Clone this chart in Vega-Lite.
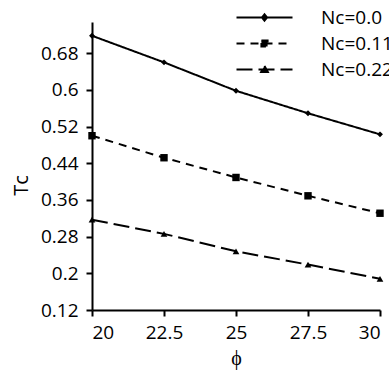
{
  "$schema": "https://vega.github.io/schema/vega-lite/v6.json",
  "width": 288,
  "height": 288,
  "autosize": {"type": "none"},
  "padding": {"left": 92, "top": 22, "right": 9, "bottom": 61},
  "background": "white",
  "config": {
    "view": {"stroke": null},
    "font": "Open Sans",
    "axis": {
      "grid": false,
      "domainColor": "black",
      "domainWidth": 2,
      "tickColor": "black",
      "tickWidth": 2,
      "tickSize": 6,
      "labelColor": "black",
      "labelFontSize": 19,
      "labelFont": "Open Sans",
      "titleColor": "black",
      "titleFontSize": 20,
      "titleFont": "Open Sans",
      "titleFontWeight": "normal"
    }
  },
  "data": {
    "values": [
      {"series": "Nc=0.0", "phi": 20, "Tc": 0.718},
      {"series": "Nc=0.0", "phi": 22.5, "Tc": 0.66},
      {"series": "Nc=0.0", "phi": 25, "Tc": 0.598},
      {"series": "Nc=0.0", "phi": 27.5, "Tc": 0.549},
      {"series": "Nc=0.0", "phi": 30, "Tc": 0.503},
      {"series": "Nc=0.111", "phi": 20, "Tc": 0.5},
      {"series": "Nc=0.111", "phi": 22.5, "Tc": 0.452},
      {"series": "Nc=0.111", "phi": 25, "Tc": 0.409},
      {"series": "Nc=0.111", "phi": 27.5, "Tc": 0.369},
      {"series": "Nc=0.111", "phi": 30, "Tc": 0.331},
      {"series": "Nc=0.222", "phi": 20, "Tc": 0.317},
      {"series": "Nc=0.222", "phi": 22.5, "Tc": 0.286},
      {"series": "Nc=0.222", "phi": 25, "Tc": 0.248},
      {"series": "Nc=0.222", "phi": 27.5, "Tc": 0.219},
      {"series": "Nc=0.222", "phi": 30, "Tc": 0.188}
    ]
  },
  "encoding": {
    "x": {
      "field": "phi",
      "type": "quantitative",
      "scale": {"domain": [20, 30], "nice": false, "zero": false},
      "axis": {"values": [20, 22.5, 25, 27.5, 30], "format": ".1~f", "title": "ϕ", "labelPadding": 7, "titlePadding": 6}
    },
    "y": {
      "field": "Tc",
      "type": "quantitative",
      "scale": {"domain": [0.12, 0.748], "nice": false, "zero": false},
      "axis": {"values": [0.12, 0.2, 0.28, 0.36, 0.44, 0.52, 0.6, 0.68], "format": ".2~f", "title": "Tc", "labelPadding": 8, "titleY": 163, "titleX": -65, "titleBaseline": "alphabetic", "titleAlign": "center", "titleAngle": -90}
    }
  },
  "layer": [
    {
      "mark": {"type": "line", "color": "black", "strokeWidth": 2},
      "encoding": {
        "strokeDash": {
          "field": "series",
          "type": "nominal",
          "scale": {"domain": ["Nc=0.0", "Nc=0.111", "Nc=0.222"], "range": [[1, 0], [8, 6], [16, 6]]},
          "legend": {
            "orient": "none",
            "legendX": 163,
            "legendY": -14,
            "title": null,
            "symbolSize": 196,
            "symbolType": {"expr": "datum.value === 'Nc=0.0' ? 'M-4,0L4,0M0,-0.44L0.36,0L0,0.44L-0.36,0Z' : datum.value === 'Nc=0.111' ? 'M-4,0L4,0M-0.44,-0.44L0.44,-0.44L0.44,0.44L-0.44,0.44Z' : 'M-4,0L4,0M0,-0.52L0.48,0.36L-0.48,0.36Z'"},
            "symbolStrokeWidth": 2,
            "symbolStrokeColor": "black",
            "symbolFillColor": "black",
            "labelFontSize": 19,
            "labelFont": "Open Sans",
            "labelColor": "black",
            "labelOffset": 47,
            "rowPadding": 6
          }
        }
      }
    },
    {
      "transform": [{"filter": "datum.series === 'Nc=0.0'"}],
      "mark": {"type": "point", "shape": "diamond", "size": 35, "filled": true, "color": "black", "opacity": 1}
    },
    {
      "transform": [{"filter": "datum.series === 'Nc=0.111'"}],
      "mark": {"type": "point", "shape": "square", "size": 55, "filled": true, "color": "black", "opacity": 1}
    },
    {
      "transform": [{"filter": "datum.series === 'Nc=0.222'"}],
      "mark": {"type": "point", "shape": "triangle-up", "size": 45, "filled": true, "color": "black", "opacity": 1}
    }
  ]
}
